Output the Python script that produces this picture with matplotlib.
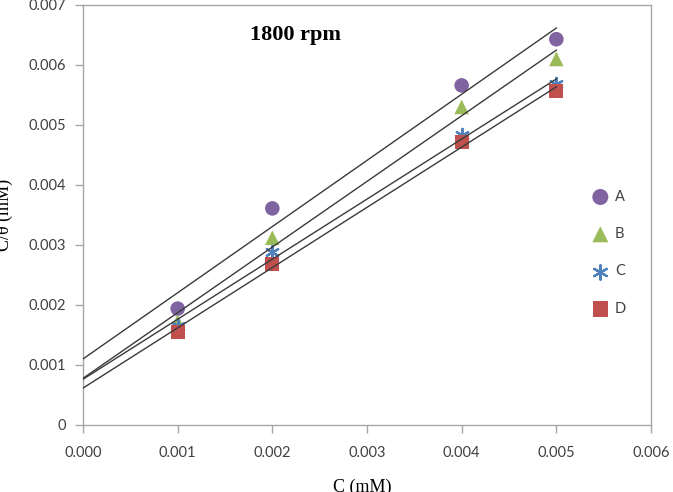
import numpy as np
import matplotlib
matplotlib.use("Agg")
import matplotlib.pyplot as plt

# Data
conc = [0.001, 0.002, 0.004, 0.005]
series_names = ["A", "B", "C", "D"]
A_vals = [0.00194, 0.00361, 0.00566, 0.00643]
B_vals = [0.00172, 0.00312, 0.00530, 0.00610]
C_vals = [0.00165, 0.00289, 0.00484, 0.00568]
D_vals = [0.00155, 0.00269, 0.00471, 0.00556]
x_ticks = [0.000, 0.001, 0.002, 0.003, 0.004, 0.005, 0.006]
x_tick_labels = ["0.000", "0.001", "0.002", "0.003", "0.004", "0.005", "0.006"]
y_ticks = [0, 0.001, 0.002, 0.003, 0.004, 0.005, 0.006, 0.007]
y_tick_labels = ["0", "0.001", "0.002", "0.003", "0.004", "0.005", "0.006", "0.007"]

colors = ["#8064A2", "#9BBB59", "#4F81BD", "#C0504D"]
markers = ["o", "^", (6, 2, 0), "s"]
sizes = [110, 110, 90, 100]

fig = plt.figure(figsize=(6.73, 4.92), dpi=100)
ax = fig.add_axes([83/673, 1-425/492, (651-83)/673, (425-5)/492])

all_vals = [A_vals, B_vals, C_vals, D_vals]
xs = np.array(conc)
for name, vals, c, m, s in zip(series_names, all_vals, colors, markers, sizes):
    ys = np.array(vals)
    k, b = np.polyfit(xs, ys, 1)
    xl = np.array([0.0, xs.max()])
    ax.plot(xl, k*xl + b, color="#3a3a3a", lw=1.0, zorder=3)
    if m == (6, 2, 0):
        ax.scatter(xs, ys, marker=m, s=s, color=c, linewidths=1.6, label=name, zorder=2)
    else:
        ax.scatter(xs, ys, marker=m, s=s, color=c, edgecolors="none", label=name, zorder=2)

ax.set_xlim(0, 0.006)
ax.set_ylim(0, 0.007)
ax.set_xticks(x_ticks)
ax.set_xticklabels(x_tick_labels)
ax.set_yticks(y_ticks)
ax.set_yticklabels(y_tick_labels)

for sp in ax.spines.values():
    sp.set_color("#A6A6A6")
    sp.set_linewidth(1.0)
ax.tick_params(axis="both", colors="#A6A6A6", labelcolor="#404040", direction="out",
               length=6, width=1.0, labelsize=10.5)
for lab in ax.get_xticklabels() + ax.get_yticklabels():
    lab.set_family("Lato")
ax.tick_params(axis="x", pad=9)
ax.tick_params(axis="y", pad=6)

fig.text(296/673, 1-35/492, "1800 rpm", ha="center", va="center",
         family="Liberation Serif", fontweight="bold", fontsize=16)

fig.text(362/673, 1-487/492, "C (mM)", ha="center", va="center",
         family="Liberation Serif", fontsize=13)
fig.text(4/673, 1-215/492, "C/θ (mM)", ha="center", va="center", rotation=90,
         family="Liberation Serif", fontsize=13)

leg = ax.legend(loc="center left", bbox_to_anchor=(0.862, 0.41), frameon=False,
                labelspacing=1.6, handletextpad=0.0, markerscale=1.1,
                prop={"family": "Lato", "size": 10.5})
for t in leg.get_texts():
    t.set_color("#404040")

fig.savefig("out.png", dpi=100)
